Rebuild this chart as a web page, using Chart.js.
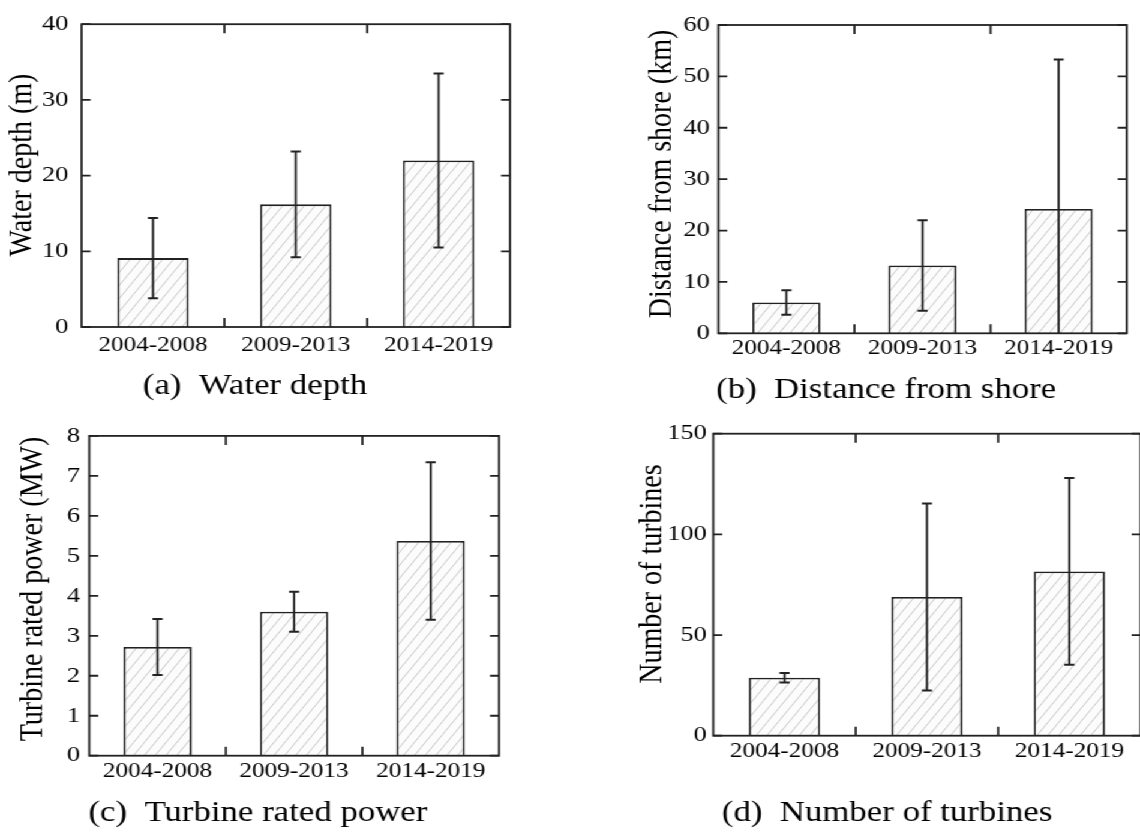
<!DOCTYPE html>
<html>
<head>
<meta charset="utf-8">
<script src="https://cdn.jsdelivr.net/npm/chart.js@4.4.1/dist/chart.umd.min.js"></script>
<style>
	body { margin: 0; background: #fff; overflow: hidden; }
	/* the figure is laid out narrow and stretched sideways */
	#page { position: relative; width: 950px; height: 832px; transform: scaleX(1.2); transform-origin: 0 0; }
	#page canvas { position: absolute; }
</style>
</head>
<body>
<div id="page">
	<canvas id="chartDepth"></canvas>
	<canvas id="chartShore"></canvas>
	<canvas id="chartPower"></canvas>
	<canvas id="chartTurbines"></canvas>
</div>
<script>
const periods = ['2004-2008', '2009-2013', '2014-2019'];

const depthMean = [9.1, 16.2, 22.0];
const depthSd = [5.3, 7.0, 11.5];
const depthTicks = [0, 10, 20, 30, 40];

const shoreMean = [6.0, 13.2, 24.2];
const shoreSd = [2.4, 8.8, 29.1];
const shoreTicks = [0, 10, 20, 30, 40, 50, 60];

const powerMean = [2.72, 3.60, 5.37];
const powerSd = [0.70, 0.50, 1.97];
const powerTicks = [0, 1, 2, 3, 4, 5, 6, 7, 8];

const turbineMean = [28.8, 68.9, 81.6];
const turbineSd = [2.4, 46.4, 46.4];
const turbineTicks = [0, 50, 100, 150];

const lineColor = '#222';
const textColor = '#000';
const fontFamily = "'Liberation Serif', 'Times New Roman', serif";
const xTickFont = 21;
const yTickFont = 22;
const axisTitleFont = 28;
const captionFont = 29;

Chart.defaults.font.family = fontFamily;
Chart.defaults.color = textColor;

function hatchPattern(ctx) {
	let c = document.createElement('canvas');
	c.width = 9;
	c.height = 13;
	let p = c.getContext('2d');
	p.fillStyle = '#fcfcfc';
	p.fillRect(0, 0, 9, 13);
	p.strokeStyle = '#c8c8c8';
	p.lineWidth = 1;
	p.beginPath();
	p.moveTo(-9, 13); p.lineTo(0, 0);
	p.moveTo(0, 13); p.lineTo(9, 0);
	p.moveTo(9, 13); p.lineTo(18, 0);
	p.stroke();
	return ctx.createPattern(c, 'repeat');
}

// box around the plot with short inward ticks on all four sides
const framePlugin = {
	id: 'frame',
	afterDatasetsDraw(chart) {
		const {ctx, chartArea: a, scales: {x, y}} = chart;
		ctx.save();
		ctx.strokeStyle = lineColor;
		ctx.lineWidth = 1.8;
		ctx.strokeRect(a.left, a.top, a.right - a.left, a.bottom - a.top);
		ctx.beginPath();
		y.ticks.forEach(t => {
			let py = y.getPixelForValue(t.value);
			ctx.moveTo(a.left, py);
			ctx.lineTo(a.left + 7.5, py);
			ctx.moveTo(a.right, py);
			ctx.lineTo(a.right - 7.5, py);
		});
		for (let i = 1; i < x.ticks.length; i++) {
			let px = (x.getPixelForValue(i - 1) + x.getPixelForValue(i)) / 2;
			ctx.moveTo(px, a.bottom);
			ctx.lineTo(px, a.bottom - 9);
			ctx.moveTo(px, a.top);
			ctx.lineTo(px, a.top + 9);
		}
		ctx.stroke();
		ctx.restore();
	}
};

// mean +/- sd whiskers on top of each bar
const errorBarPlugin = {
	id: 'errorBars',
	afterDatasetsDraw(chart, args, opts) {
		const ctx = chart.ctx;
		const a = chart.chartArea;
		const y = chart.scales.y;
		const values = chart.data.datasets[0].data;
		ctx.save();
		ctx.beginPath();
		ctx.rect(a.left, a.top - 2, a.right - a.left, a.bottom - a.top + 2);
		ctx.clip();
		ctx.strokeStyle = lineColor;
		chart.getDatasetMeta(0).data.forEach((bar, i) => {
			let hi = y.getPixelForValue(values[i] + opts.sd[i]);
			let lo = y.getPixelForValue(values[i] - opts.sd[i]);
			ctx.lineWidth = 1.8;
			ctx.beginPath();
			ctx.moveTo(bar.x, hi);
			ctx.lineTo(bar.x, lo);
			ctx.stroke();
			ctx.lineWidth = 2;
			ctx.beginPath();
			ctx.moveTo(bar.x - 4.2, hi);
			ctx.lineTo(bar.x + 4.2, hi);
			ctx.moveTo(bar.x - 4.2, lo);
			ctx.lineTo(bar.x + 4.2, lo);
			ctx.stroke();
		});
		ctx.restore();
	}
};

// rotated y axis title, placed a little above the plot's middle
const yTitlePlugin = {
	id: 'yTitle',
	afterDraw(chart, args, opts) {
		const ctx = chart.ctx;
		ctx.save();
		ctx.translate(opts.x, opts.y);
		ctx.rotate(-Math.PI / 2);
		ctx.font = axisTitleFont + 'px ' + fontFamily;
		ctx.fillStyle = textColor;
		ctx.textAlign = 'center';
		ctx.textBaseline = 'middle';
		ctx.fillText(opts.text, 0, 0);
		ctx.restore();
	}
};

function createChart(id, g, values, sd, ticks, yTitle, caption) {
	let canvas = document.getElementById(id);
	canvas.width = g.width;
	canvas.height = g.height;
	canvas.style.left = g.left + 'px';
	canvas.style.top = g.top + 'px';
	let context = canvas.getContext('2d');

	let captionLine = captionFont * 1.2;
	let captionPad = g.top + g.height - g.captionY - captionLine / 2;

	let xScaleConfig = {
		grid: { display: false, drawTicks: false },
		border: { display: false },
		ticks: {
			font: { size: xTickFont },
			padding: g.labelY - g.area.bottom - xTickFont * 1.2 / 2,
			maxRotation: 0
		},
		afterFit: scale => {
			scale.height = g.captionY - captionLine / 2 - g.area.bottom;
		}
	};

	let yScaleConfig = {
		min: ticks[0],
		max: ticks[ticks.length - 1],
		grid: { display: false, drawTicks: false },
		border: { display: false },
		ticks: {
			stepSize: ticks[1] - ticks[0],
			font: { size: yTickFont },
			padding: g.labelGap
		},
		afterFit: scale => {
			scale.width = g.area.left - g.left;
		}
	};

	let config = {
		type: 'bar',
		data: {
			labels: periods,
			datasets: [{
				data: values,
				backgroundColor: hatchPattern(context),
				borderColor: lineColor,
				borderWidth: 1.8,
				categoryPercentage: 1,
				barPercentage: 0.5
			}]
		},
		options: {
			responsive: false,
			animation: false,
			layout: {
				padding: {
					left: 0,
					top: g.area.top - g.top,
					right: g.left + g.width - g.area.right,
					bottom: 0
				}
			},
			scales: {
				x: xScaleConfig,
				y: yScaleConfig
			},
			plugins: {
				legend: { display: false },
				tooltip: { enabled: false },
				title: {
					display: true,
					position: 'bottom',
					text: caption,
					color: textColor,
					font: { size: captionFont, weight: 'normal', lineHeight: 1.2 },
					padding: { top: 0, bottom: captionPad }
				},
				errorBars: { sd: sd },
				yTitle: { text: yTitle, x: g.titleX - g.left, y: g.titleY - g.top }
			}
		},
		plugins: [framePlugin, errorBarPlugin, yTitlePlugin]
	};

	return new Chart(context, config);
}

createChart('chartDepth',
	{ left: 0, top: 0, width: 430, height: 410,
	  area: { left: 68, top: 24, right: 425, bottom: 327 },
	  labelGap: 11, titleX: 19, titleY: 165, labelY: 345, captionY: 386 },
	depthMean, depthSd, depthTicks, 'Water depth (m)', '(a)  Water depth');

createChart('chartShore',
	{ left: 538, top: 0, width: 412, height: 410,
	  area: { left: 598.6, top: 25, right: 938.9, bottom: 333.3 },
	  labelGap: 7, titleX: 551.7, titleY: 174, labelY: 348.3, captionY: 390 },
	shoreMean, shoreSd, shoreTicks, 'Distance from shore (km)', '(b)  Distance from shore');

createChart('chartPower',
	{ left: 14, top: 415, width: 410, height: 417,
	  area: { left: 74.4, top: 430, right: 415.8, bottom: 755.7 },
	  labelGap: 7.7, titleX: 27.5, titleY: 589, labelY: 771.7, captionY: 813 },
	powerMean, powerSd, powerTicks, 'Turbine rated power (MW)', '(c)  Turbine rated power');

createChart('chartTurbines',
	{ left: 528, top: 415, width: 423, height: 417,
	  area: { left: 594.4, top: 430, right: 950.5, bottom: 735.7 },
	  labelGap: 5.5, titleX: 543.3, titleY: 574, labelY: 751.7, captionY: 813 },
	turbineMean, turbineSd, turbineTicks, 'Number of turbines', '(d)  Number of turbines');
</script>
</body>
</html>
